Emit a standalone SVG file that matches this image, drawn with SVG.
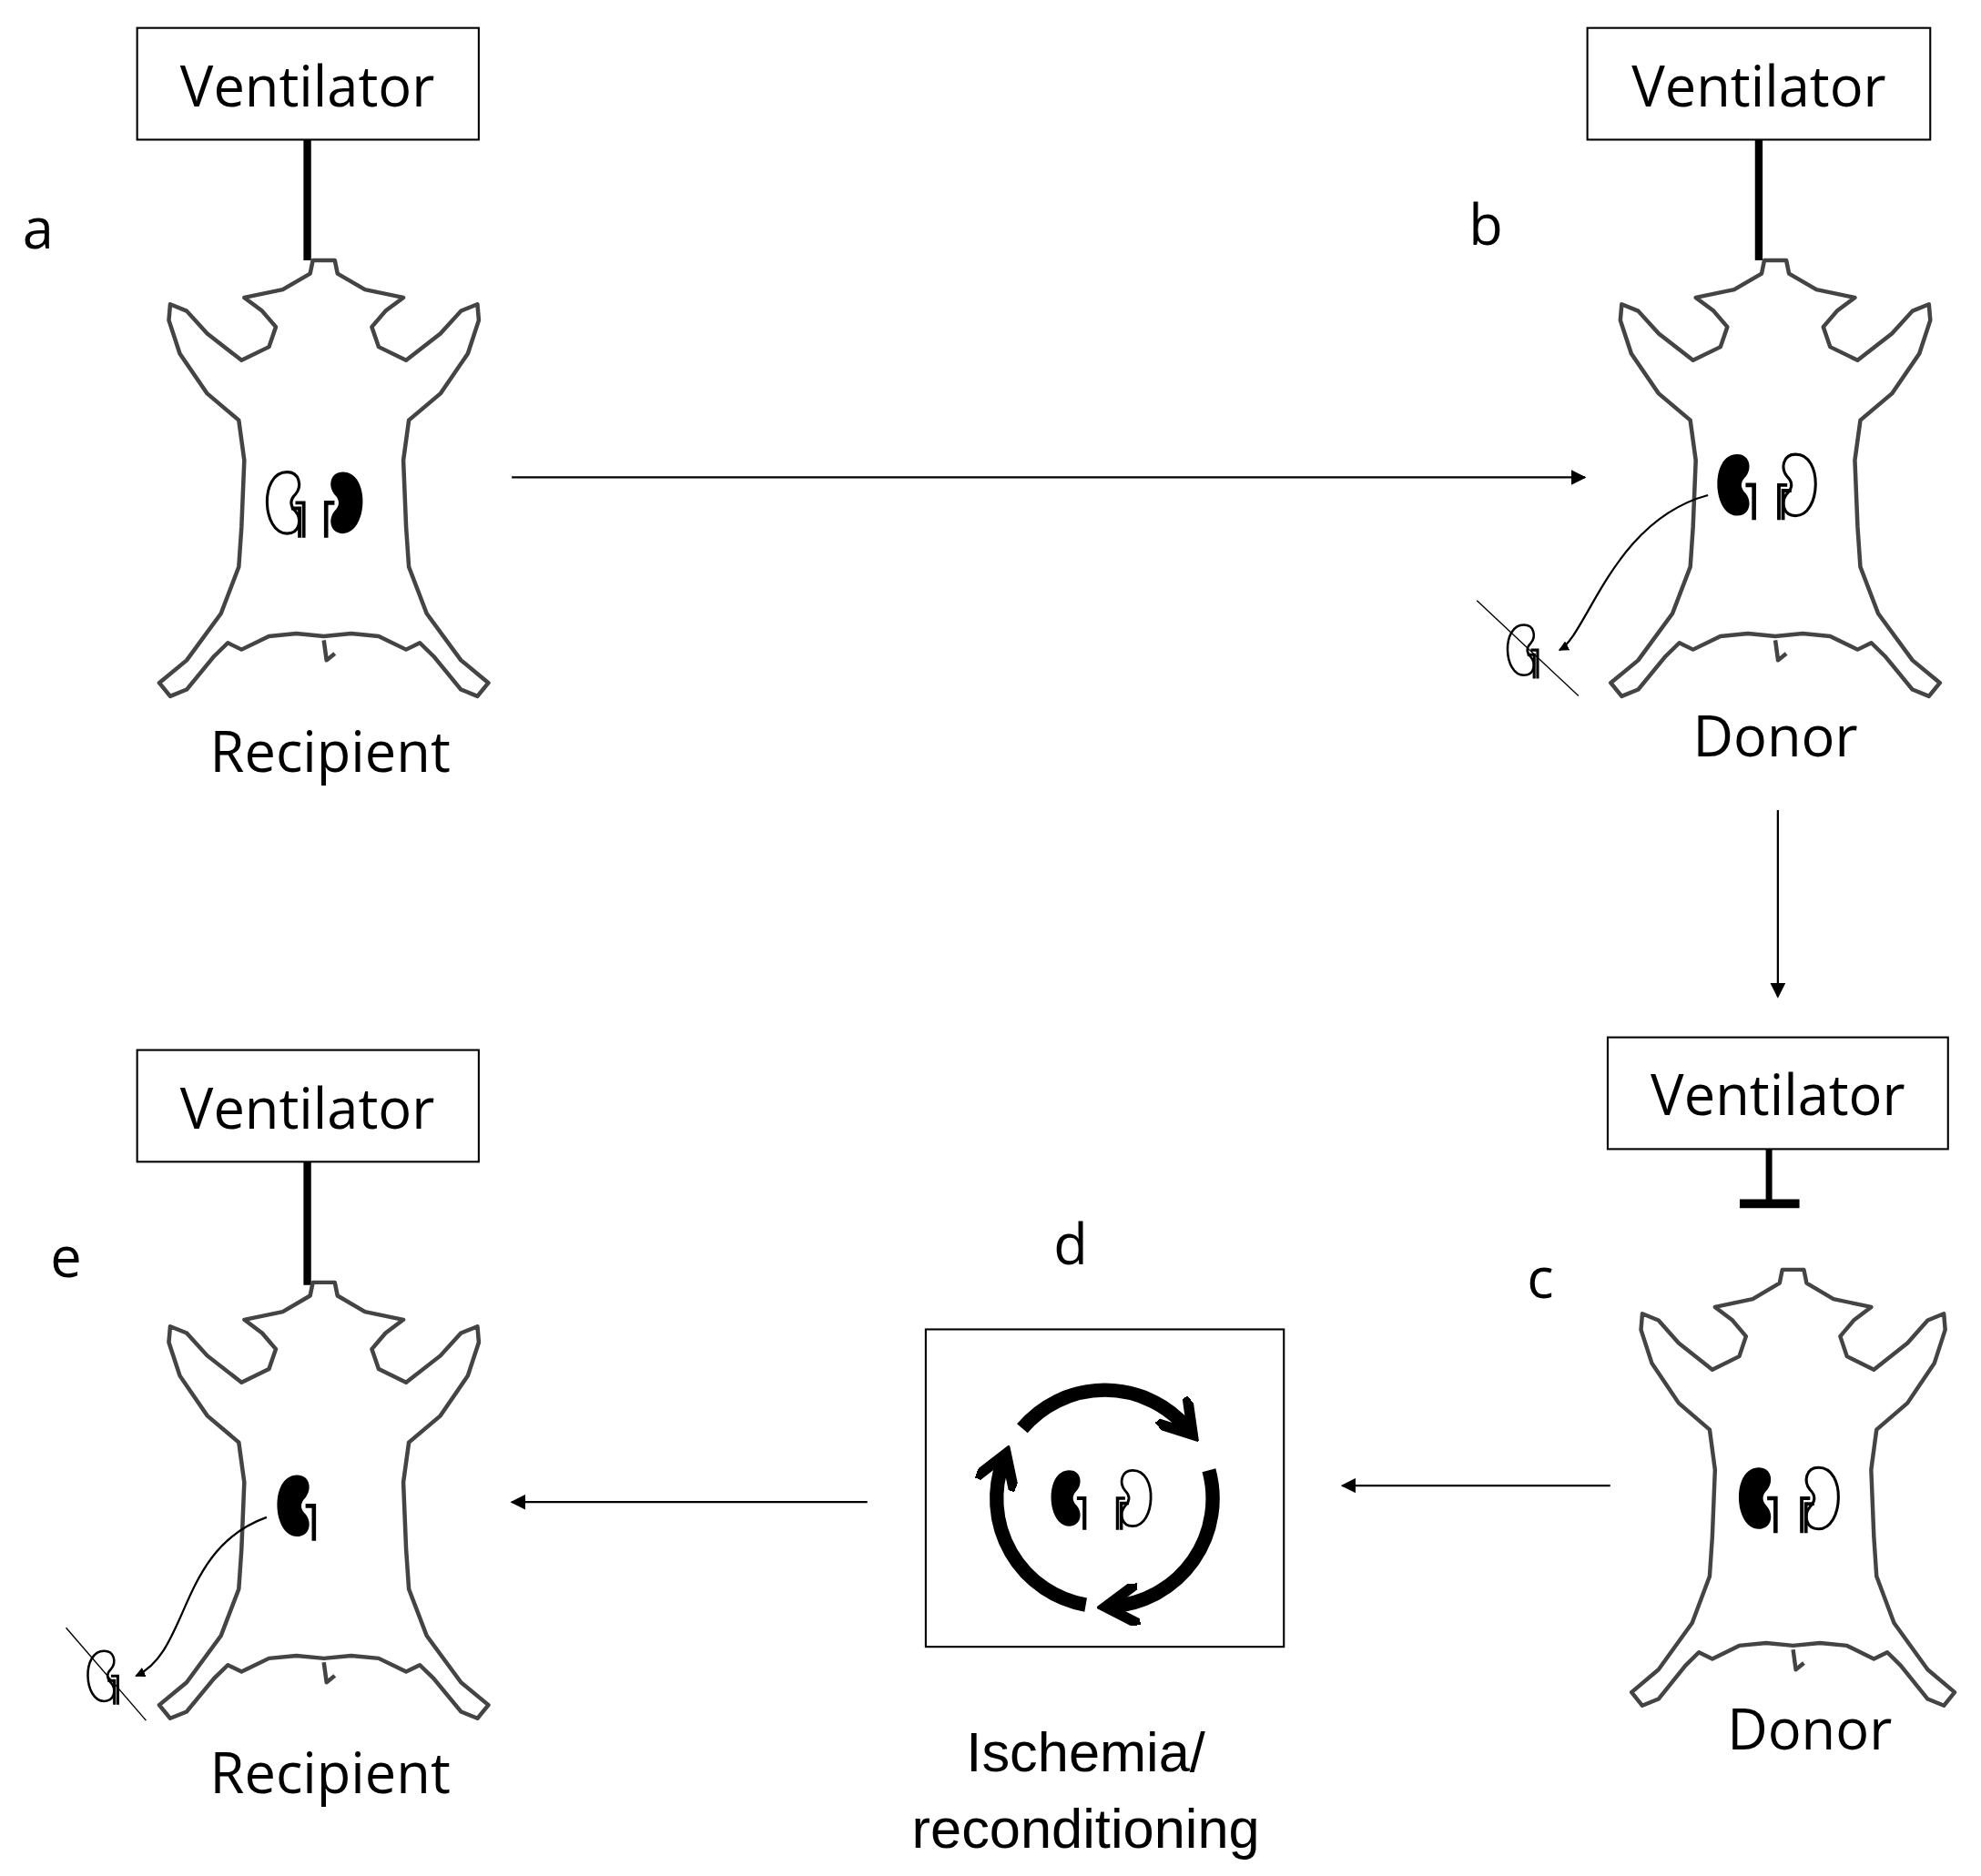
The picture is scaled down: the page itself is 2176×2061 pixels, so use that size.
<svg xmlns="http://www.w3.org/2000/svg" xmlns:xlink="http://www.w3.org/1999/xlink" width="2176" height="2061" viewBox="0 0 2176 2061">
<style>
.box{fill:#fff;stroke:#000;stroke-width:1.5}
.t{font-family:"Open Sans","Liberation Sans",sans-serif;font-size:44px;fill:#000;text-anchor:middle}
.ta{font-family:"Liberation Sans",Arial,sans-serif;font-size:44px;fill:#000;text-anchor:middle}
.pig{fill:#fff;stroke:#444;stroke-width:3;stroke-linejoin:round}
.ln{stroke:#000;stroke-width:1.6;fill:none}
.cyc{stroke:#000;stroke-width:11;fill:none;marker-end:url(#big)}
</style>
<defs>
<marker id="ah" viewBox="0 0 10 10" refX="9" refY="5" markerWidth="8" markerHeight="8" markerUnits="userSpaceOnUse" orient="auto"><path d="M0,0L10,5L0,10Z"/></marker>
<marker id="ahs" viewBox="0 0 10 10" refX="9" refY="5" markerWidth="12" markerHeight="12" markerUnits="userSpaceOnUse" orient="auto"><path d="M0,0L10,5L0,10Z"/></marker>
<marker id="big" viewBox="0 0 10 10" refX="6" refY="5" markerWidth="3" markerHeight="3" orient="auto"><path d="M0,0L8,5L0,10" fill="none" stroke="#000" stroke-width="2.5"/></marker>
<path id="pig" class="pig" d="M-8,0 L-10,10 L-30,22 L-58,28 L-45,38 L-35,50 L-40,65 L-60,75 L-85,55 L-100,38 L-112,33 L-113,45 L-105,70 L-85,100 L-62,120 L-58,150 L-60,200 L-62,230 L-75,265 L-100,300 L-120,317 L-112,327 L-100,322 L-80,297 L-70,287 L-60,292 L-40,282 L-20,280 L0,282 L20,280 L40,282 L60,292 L70,287 L80,297 L100,322 L112,327 L120,317 L100,300 L75,265 L62,230 L60,200 L58,150 L62,120 L85,100 L105,70 L113,45 L112,33 L100,38 L85,55 L60,75 L40,65 L35,50 L45,38 L58,28 L30,22 L10,10 L8,0 Z M0,285 L2,300 L8,295"/>
<g id="kw"><path d="M0,-22 C-20,-22 -18,22 0,22 C9,22 11,12 6,6 C2,2 2,-2 6,-6 C11,-12 9,-22 0,-22Z" fill="#fff" stroke="#000" stroke-width="2"/><path d="M6,0 H12 V25 M3,4 H9 V25" fill="none" stroke="#000" stroke-width="2.5"/></g>
<g id="kb"><path d="M0,-22 C-20,-22 -18,22 0,22 C9,22 11,12 6,6 C2,2 2,-2 6,-6 C11,-12 9,-22 0,-22Z" fill="#000"/><path d="M6,0 H12 V25" fill="none" stroke="#000" stroke-width="3"/></g>
</defs>
<g transform="scale(1.3949)">
<g id="connectors">
<line class="ln" x1="403" y1="376" x2="1248" y2="376" marker-end="url(#ahs)"/>
<line class="ln" x1="1400" y1="638" x2="1400" y2="785" marker-end="url(#ahs)"/>
<line class="ln" x1="1268" y1="1170" x2="1057" y2="1170" marker-end="url(#ahs)"/>
<line class="ln" x1="683" y1="1183" x2="403" y2="1183" marker-end="url(#ahs)"/>
</g>
<g id="a">
<rect class="box" x="108" y="22" width="269" height="88"/><text class="t" x="242" y="84" font-size="46">Ventilator</text>
<line x1="242" y1="110" x2="242" y2="205" stroke="#000" stroke-width="6"/>
<use xlink:href="#pig" transform="translate(255,205) scale(1.08,1.05)"/>
<use xlink:href="#kw" transform="translate(226,396) scale(1.1)"/>
<use xlink:href="#kb" transform="translate(270,396) scale(-1.1,1.1)"/>
<text class="t" x="30" y="196">a</text><text class="t" x="260" y="608">Recipient</text>
</g>
<g id="b">
<rect class="box" x="1250" y="22" width="270" height="88"/><text class="t" x="1385" y="84" font-size="46">Ventilator</text>
<line x1="1385" y1="110" x2="1385" y2="205" stroke="#000" stroke-width="6"/>
<use xlink:href="#pig" transform="translate(1398,205) scale(1.08,1.05)"/>
<use xlink:href="#kb" transform="translate(1368,382) scale(1.1)"/>
<use xlink:href="#kw" transform="translate(1414,382) scale(-1.1,1.1)"/>
<path class="ln" d="M1345,390 C1270,410 1250,500 1228,512" marker-end="url(#ah)"/>
<use xlink:href="#kw" transform="translate(1200,512) scale(0.9)"/>
<line x1="1163" y1="473" x2="1243" y2="548" stroke="#000" stroke-width="1"/>
<text class="t" x="1170" y="193">b</text><text class="t" x="1398" y="596">Donor</text>
</g>
<g id="c">
<rect class="box" x="1266" y="817" width="268" height="88"/><text class="t" x="1400" y="878" font-size="46">Ventilator</text>
<line x1="1393" y1="905" x2="1393" y2="948" stroke="#000" stroke-width="5"/>
<line x1="1370" y1="948" x2="1417" y2="948" stroke="#000" stroke-width="7"/>
<use xlink:href="#pig" transform="translate(1412,1000) scale(1.06,1.05)"/>
<use xlink:href="#kb" transform="translate(1385,1180) scale(1.1)"/>
<use xlink:href="#kw" transform="translate(1432,1180) scale(-1.1,1.1)"/>
<text class="t" x="1213" y="1022">c</text><text class="t" x="1425" y="1378">Donor</text>
</g>
<g id="d">
<rect class="box" x="729" y="1047" width="282" height="250"/>
<path class="cyc" d="M805,1125 A85,85 0 0 1 935,1125"/>
<path class="cyc" d="M952,1158 A85,85 0 0 1 877,1265"/>
<path class="cyc" d="M855,1264 A85,85 0 0 1 790,1151"/>
<use xlink:href="#kb" transform="translate(842,1180)"/>
<use xlink:href="#kw" transform="translate(892,1180) scale(-1,1)"/>
<text class="t" x="843" y="996">d</text>
<text class="ta" x="855" y="1395">Ischemia/</text>
<text class="ta" x="855" y="1455">reconditioning</text>
</g>
<g id="e">
<rect class="box" x="108" y="827" width="269" height="88"/><text class="t" x="242" y="889" font-size="46">Ventilator</text>
<line x1="242" y1="915" x2="242" y2="1012" stroke="#000" stroke-width="6"/>
<use xlink:href="#pig" transform="translate(255,1010) scale(1.08,1.05)"/>
<use xlink:href="#kb" transform="translate(234,1186) scale(1.1)"/>
<path class="ln" d="M210,1195 C140,1220 150,1300 107,1320" marker-end="url(#ah)"/>
<use xlink:href="#kw" transform="translate(82,1320) scale(0.9)"/>
<line x1="52" y1="1282" x2="115" y2="1355" stroke="#000" stroke-width="1"/>
<text class="t" x="52" y="1006">e</text><text class="t" x="260" y="1412">Recipient</text>
</g>
</g>
</svg>
